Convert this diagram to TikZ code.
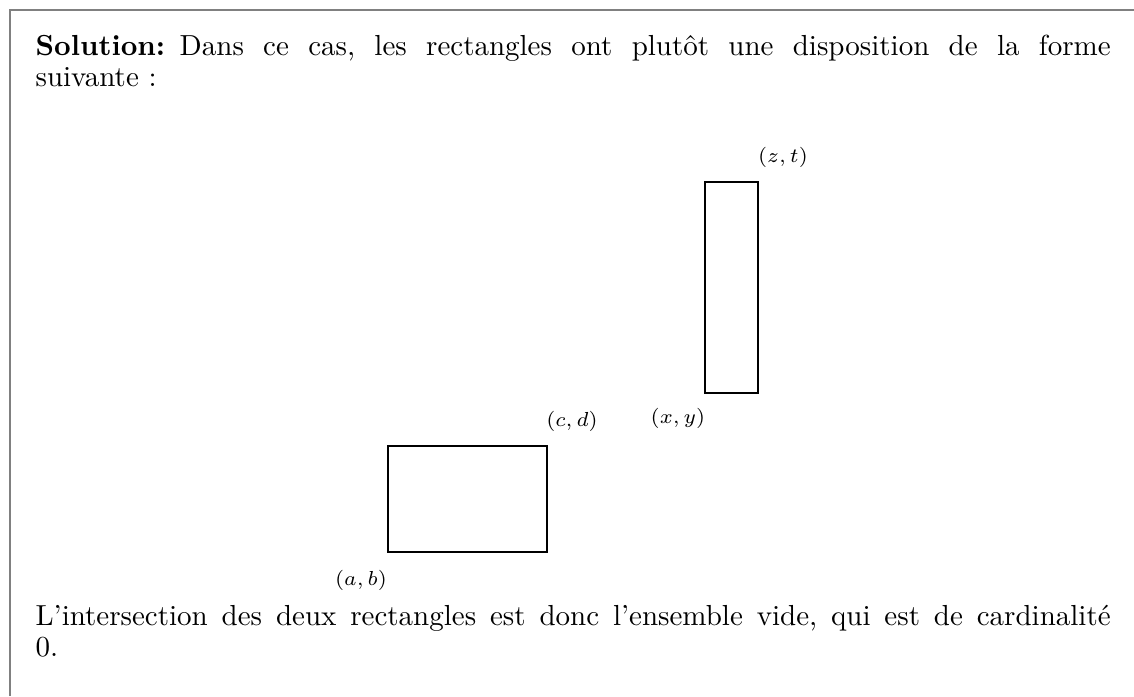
\documentclass[tikz,border=0pt]{standalone}
\tikzset{
  frameline/.style={draw=black!50, line width=0.7pt},
  para/.style={anchor=base west, inner sep=0pt, text width=370.7pt, align=justify, font=\fontsize{10pt}{11pt}\selectfont\frenchspacing},
  rectline/.style={draw=black, line width=0.4pt},
  coordlabel/.style={font=\fontsize{7.5pt}{9pt}\selectfont, inner sep=0pt}
}
\begin{document}
\begin{tikzpicture}[x=0.3448pt,y=-0.3448pt]
\useasboundingbox (0,0) rectangle (1134,696);
\draw[frameline] (10,696) -- (10,10) -- (1134,10);
\node[para] (sol) at (35,55) {\textbf{Solution:}\enspace Dans ce cas, les rectangles ont plutôt une disposition de la forme\linebreak suivante :};
\node[para] (concl) at (35,625) {L'intersection des deux rectangles est donc l'ensemble vide, qui est de cardinalité\linebreak 0.};
\coordinate (ab) at (388,552);
\coordinate (cd) at (547,446);
\coordinate (xy) at (705,393);
\coordinate (zt) at (758,182);
\draw[rectline] (ab) rectangle (cd);
\draw[rectline] (xy) rectangle (zt);
\node[coordlabel] (lab) at (361,580) {$(a,b)$};
\node[coordlabel] (lcd) at (572,421) {$(c,d)$};
\node[coordlabel] (lxy) at (678,418) {$(x,y)$};
\node[coordlabel] (lzt) at (783,157) {$(z,t)$};
\end{tikzpicture}
\end{document}
